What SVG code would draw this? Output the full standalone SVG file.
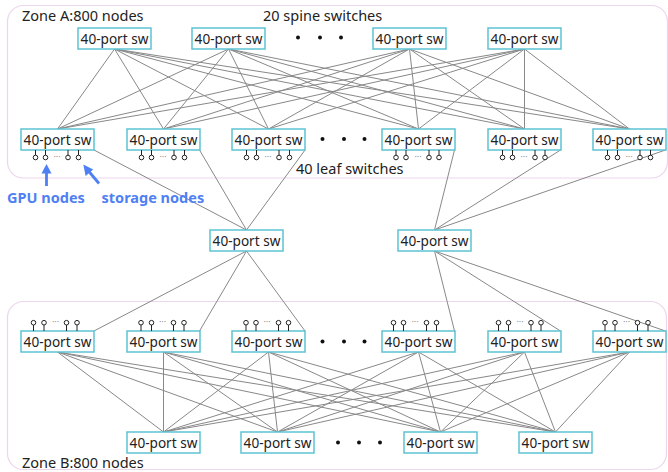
<svg xmlns="http://www.w3.org/2000/svg" xmlns:xlink="http://www.w3.org/1999/xlink" width="668" height="472" viewBox="0 0 668 472">
<style>
.zone{fill:none;stroke:#ecd6ec;stroke-width:1.2}
.box{fill:#fff;stroke:#5cc3d3;stroke-width:1.5}
.bt{font-family:"Noto Sans","Liberation Sans",sans-serif;font-size:13.6px;fill:#222;text-anchor:middle}
.lbl{font-family:"Noto Sans","Liberation Sans",sans-serif;font-size:14.5px;fill:#222}
.blue{font-family:"Noto Sans","Liberation Sans",sans-serif;font-size:14.5px;font-weight:bold;fill:#4f80f3}
.ln{fill:none;stroke:#888;stroke-width:1}
.dot{fill:#111}
.pt{fill:#fff;stroke:#222;stroke-width:1}
.ps{stroke:#222;stroke-width:1}
.ell{font-family:"Noto Sans","Liberation Sans",sans-serif;font-size:9px;fill:#999;text-anchor:middle}
.arr{stroke:#4f80f3;stroke-width:2.8;fill:none}
.ahd{fill:#4f80f3}
</style>
<defs>
<g id="pdn"><line class="ps" x1="0" y1="-7.5" x2="0" y2="-2.3"/><circle class="pt" cx="0" cy="0" r="2.3"/></g>
<g id="pup"><line class="ps" x1="0" y1="2.3" x2="0" y2="8.3"/><circle class="pt" cx="0" cy="0" r="2.3"/></g>
</defs>
<rect width="668" height="472" fill="#fff"/>
<rect class="zone" x="7.5" y="5.5" width="660" height="172.5" rx="16"/>
<rect class="zone" x="7.5" y="301.5" width="659" height="168" rx="16"/>
<text class="lbl" x="22" y="21">Zone A:800 nodes</text>
<text class="lbl" x="263" y="21">20 spine switches</text>
<text class="lbl" x="296" y="174">40 leaf switches</text>
<text class="lbl" x="22" y="468">Zone B:800 nodes</text>
<g id="connectors">
<path class="ln" d="M114.5 49L57.5 129M114.5 49L163.5 129M114.5 49L268.5 129M114.5 49L418.5 129M114.5 49L524.5 129M114.5 49L629.5 129"/>
<path class="ln" d="M228.5 49L57.5 129M228.5 49L163.5 129M228.5 49L268.5 129M228.5 49L418.5 129M228.5 49L524.5 129M228.5 49L629.5 129"/>
<path class="ln" d="M409.5 49L57.5 129M409.5 49L163.5 129M409.5 49L268.5 129M409.5 49L418.5 129M409.5 49L524.5 129M409.5 49L629.5 129"/>
<path class="ln" d="M524.5 49L57.5 129M524.5 49L163.5 129M524.5 49L268.5 129M524.5 49L418.5 129M524.5 49L524.5 129M524.5 49L629.5 129"/>
<path class="ln" d="M94 150L246.5 230M199.5 150L246.5 230M305 150L246.5 230"/>
<path class="ln" d="M454.5 150L434.5 230M560.5 150L434.5 230M665.5 150L434.5 230"/>
<path class="ln" d="M246.5 251L94 331M246.5 251L199.5 331M246.5 251L305 331"/>
<path class="ln" d="M434.5 251L454.5 331M434.5 251L560.5 331M434.5 251L665.5 331"/>
<path class="ln" d="M163.5 432L57.5 352M163.5 432L163.5 352M163.5 432L268.5 352M163.5 432L418.5 352M163.5 432L524.5 352M163.5 432L629.5 352"/>
<path class="ln" d="M277.5 432L57.5 352M277.5 432L163.5 352M277.5 432L268.5 352M277.5 432L418.5 352M277.5 432L524.5 352M277.5 432L629.5 352"/>
<path class="ln" d="M440.5 432L57.5 352M440.5 432L163.5 352M440.5 432L268.5 352M440.5 432L418.5 352M440.5 432L524.5 352M440.5 432L629.5 352"/>
<path class="ln" d="M555.5 432L57.5 352M555.5 432L163.5 352M555.5 432L268.5 352M555.5 432L418.5 352M555.5 432L524.5 352M555.5 432L629.5 352"/>
</g>
<g id="spineA1"><rect class="box" x="78" y="28" width="73" height="21"/><text class="bt" x="114.5" y="43.5">40-port sw</text></g>
<g id="spineA2"><rect class="box" x="192" y="28" width="73" height="21"/><text class="bt" x="228.5" y="43.5">40-port sw</text></g>
<g id="spineA3"><rect class="box" x="373" y="28" width="73" height="21"/><text class="bt" x="409.5" y="43.5">40-port sw</text></g>
<g id="spineA4"><rect class="box" x="488" y="28" width="73" height="21"/><text class="bt" x="524.5" y="43.5">40-port sw</text></g>
<g id="spineAdots"><circle class="dot" cx="298" cy="37.5" r="2"/><circle class="dot" cx="320" cy="37.5" r="2"/><circle class="dot" cx="341" cy="37.5" r="2"/></g>
<g id="leafA1"><rect class="box" x="21" y="129" width="73" height="21"/><text class="bt" x="57.5" y="144.5">40-port sw</text>
<use xlink:href="#pdn" x="35.5" y="157.5"/><use xlink:href="#pdn" x="45.5" y="157.5"/><text class="ell" x="57" y="160">···</text><use xlink:href="#pdn" x="68" y="157.5"/><use xlink:href="#pdn" x="78.5" y="157.5"/></g>
<g id="leafA2"><rect class="box" x="127" y="129" width="73" height="21"/><text class="bt" x="163.5" y="144.5">40-port sw</text>
<use xlink:href="#pdn" x="141.5" y="157.5"/><use xlink:href="#pdn" x="151.5" y="157.5"/><text class="ell" x="163" y="160">···</text><use xlink:href="#pdn" x="174" y="157.5"/><use xlink:href="#pdn" x="184.5" y="157.5"/></g>
<g id="leafA3"><rect class="box" x="232" y="129" width="73" height="21"/><text class="bt" x="268.5" y="144.5">40-port sw</text>
<use xlink:href="#pdn" x="246.5" y="157.5"/><use xlink:href="#pdn" x="256.5" y="157.5"/><text class="ell" x="268" y="160">···</text><use xlink:href="#pdn" x="279" y="157.5"/><use xlink:href="#pdn" x="289.5" y="157.5"/></g>
<g id="leafAdots"><circle class="dot" cx="322.5" cy="139" r="2"/><circle class="dot" cx="344" cy="139" r="2"/><circle class="dot" cx="364.5" cy="139" r="2"/></g>
<g id="leafA4"><rect class="box" x="382" y="129" width="73" height="21"/><text class="bt" x="418.5" y="144.5">40-port sw</text>
<use xlink:href="#pdn" x="396" y="157.5"/><use xlink:href="#pdn" x="406" y="157.5"/><text class="ell" x="418" y="160">···</text><use xlink:href="#pdn" x="429" y="157.5"/><use xlink:href="#pdn" x="439" y="157.5"/></g>
<g id="leafA5"><rect class="box" x="488" y="129" width="73" height="21"/><text class="bt" x="524.5" y="144.5">40-port sw</text>
<use xlink:href="#pdn" x="502.5" y="157.5"/><use xlink:href="#pdn" x="512.5" y="157.5"/><text class="ell" x="524" y="160">···</text><use xlink:href="#pdn" x="535" y="157.5"/><use xlink:href="#pdn" x="545" y="157.5"/></g>
<g id="leafA6"><rect class="box" x="593" y="129" width="73" height="21"/><text class="bt" x="629.5" y="144.5">40-port sw</text>
<use xlink:href="#pdn" x="607.5" y="157.5"/><use xlink:href="#pdn" x="617.5" y="157.5"/><text class="ell" x="629" y="160">···</text><use xlink:href="#pdn" x="640" y="157.5"/><use xlink:href="#pdn" x="650.5" y="157.5"/></g>
<g id="gpuLabel"><line class="arr" x1="46.5" y1="186" x2="46.5" y2="172"/><path class="ahd" d="M46.5 164L51.5 173.5L41.5 173.5Z"/><text class="blue" x="7" y="203">GPU nodes</text></g>
<g id="storageLabel"><line class="arr" x1="99" y1="183.5" x2="88.5" y2="171"/><path class="ahd" d="M83.3 164.5L93.2 169.5L85.6 175.9Z"/><text class="blue" x="101.5" y="203">storage nodes</text></g>
<g id="core1"><rect class="box" x="210" y="230" width="73" height="21"/><text class="bt" x="246.5" y="245.5">40-port sw</text></g>
<g id="core2"><rect class="box" x="398" y="230" width="73" height="21"/><text class="bt" x="434.5" y="245.5">40-port sw</text></g>
<g id="leafB1"><rect class="box" x="21" y="331" width="73" height="21"/><text class="bt" x="57.5" y="346.5">40-port sw</text>
<use xlink:href="#pup" x="33.5" y="322.7"/><use xlink:href="#pup" x="44" y="322.7"/><text class="ell" x="55.5" y="325">···</text><use xlink:href="#pup" x="66.5" y="322.7"/><use xlink:href="#pup" x="77" y="322.7"/></g>
<g id="leafB2"><rect class="box" x="127" y="331" width="73" height="21"/><text class="bt" x="163.5" y="346.5">40-port sw</text>
<use xlink:href="#pup" x="141" y="322.7"/><use xlink:href="#pup" x="151.5" y="322.7"/><text class="ell" x="162.5" y="325">···</text><use xlink:href="#pup" x="173.5" y="322.7"/><use xlink:href="#pup" x="184" y="322.7"/></g>
<g id="leafB3"><rect class="box" x="232" y="331" width="73" height="21"/><text class="bt" x="268.5" y="346.5">40-port sw</text>
<use xlink:href="#pup" x="246" y="322.7"/><use xlink:href="#pup" x="256" y="322.7"/><text class="ell" x="267" y="325">···</text><use xlink:href="#pup" x="278.5" y="322.7"/><use xlink:href="#pup" x="288.5" y="322.7"/></g>
<g id="leafBdots"><circle class="dot" cx="322.5" cy="341.5" r="2"/><circle class="dot" cx="344" cy="341.5" r="2"/><circle class="dot" cx="364.5" cy="341.5" r="2"/></g>
<g id="leafB4"><rect class="box" x="382" y="331" width="73" height="21"/><text class="bt" x="418.5" y="346.5">40-port sw</text>
<use xlink:href="#pup" x="393.5" y="322.7"/><use xlink:href="#pup" x="403.5" y="322.7"/><text class="ell" x="415" y="325">···</text><use xlink:href="#pup" x="426.5" y="322.7"/><use xlink:href="#pup" x="436.5" y="322.7"/></g>
<g id="leafB5"><rect class="box" x="488" y="331" width="73" height="21"/><text class="bt" x="524.5" y="346.5">40-port sw</text>
<use xlink:href="#pup" x="498.5" y="322.7"/><use xlink:href="#pup" x="508.5" y="322.7"/><text class="ell" x="520" y="325">···</text><use xlink:href="#pup" x="531" y="322.7"/><use xlink:href="#pup" x="541" y="322.7"/></g>
<g id="leafB6"><rect class="box" x="593" y="331" width="73" height="21"/><text class="bt" x="629.5" y="346.5">40-port sw</text>
<use xlink:href="#pup" x="605" y="322.7"/><use xlink:href="#pup" x="615" y="322.7"/><text class="ell" x="626.5" y="325">···</text><use xlink:href="#pup" x="637.5" y="322.7"/><use xlink:href="#pup" x="648" y="322.7"/></g>
<g id="spineB1"><rect class="box" x="127" y="432" width="73" height="21"/><text class="bt" x="163.5" y="447.5">40-port sw</text></g>
<g id="spineB2"><rect class="box" x="241" y="432" width="73" height="21"/><text class="bt" x="277.5" y="447.5">40-port sw</text></g>
<g id="spineBdots"><circle class="dot" cx="338" cy="442.5" r="2"/><circle class="dot" cx="359" cy="442.5" r="2"/><circle class="dot" cx="380" cy="442.5" r="2"/></g>
<g id="spineB3"><rect class="box" x="404" y="432" width="73" height="21"/><text class="bt" x="440.5" y="447.5">40-port sw</text></g>
<g id="spineB4"><rect class="box" x="519" y="432" width="73" height="21"/><text class="bt" x="555.5" y="447.5">40-port sw</text></g>
</svg>
